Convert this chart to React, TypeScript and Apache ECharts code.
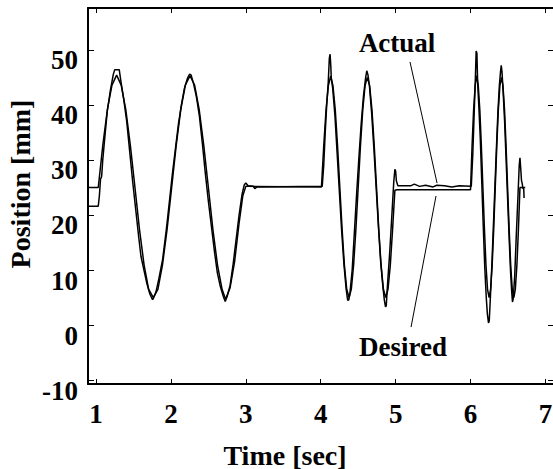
import React, { useEffect, useRef } from "react";
import * as echarts from "echarts";

const desiredTime = [
  0.893, 1.03, 1.091, 1.152, 1.213, 1.275, 1.336, 1.397, 1.458, 1.52, 1.581, 1.642, 1.703, 1.765, 1.826, 1.887, 1.948,
  2.01, 2.071, 2.132, 2.193, 2.255, 2.316, 2.377, 2.438, 2.5, 2.561, 2.622, 2.683, 2.73, 2.79, 2.85, 2.91, 2.96, 3.0, 3.05,
  4.01, 4.041, 4.071, 4.102, 4.133, 4.163, 4.194, 4.224, 4.255, 4.286, 4.316, 4.347, 4.378, 4.408, 4.439, 4.469, 4.5,
  4.531, 4.561, 4.592, 4.622, 4.653, 4.684, 4.714, 4.745, 4.775, 4.806, 4.837, 4.867, 4.898, 4.929, 4.959, 4.99, 5.02,
  6.0, 6.021, 6.041, 6.062, 6.083, 6.103, 6.124, 6.144, 6.165, 6.186, 6.206, 6.227, 6.248, 6.268, 6.289, 6.309, 6.33,
  6.351, 6.371, 6.392, 6.413, 6.433, 6.454, 6.474, 6.495, 6.516, 6.536, 6.557, 6.578, 6.598, 6.619, 6.639, 6.66, 6.73,
];
const desiredPos = [
  25, 25, 32.7, 39.2, 43.6, 45.4, 43.6, 39.2, 32.7, 25, 17.3, 10.9, 6.5, 5.0, 6.5, 10.9, 17.3,
  25, 32.7, 39.2, 43.6, 45.3, 43.6, 39.2, 32.7, 25, 17.3, 10.9, 6.5, 4.7, 6.8, 11.5, 18.5, 23.5, 25.2, 25.2,
  25.1, 32.7, 39.1, 43.5, 45.2, 43.5, 39.1, 32.7, 25, 17.3, 10.9, 6.5, 5.0, 6.5, 10.9, 17.3, 25,
  32.7, 39.1, 43.5, 45.0, 43.5, 39.1, 32.7, 25, 17.3, 10.9, 6.5, 5.0, 6.5, 10.9, 17.3, 24.5, 24.6,
  24.6, 32.7, 39.1, 43.5, 45.3, 43.5, 39.1, 32.7, 25, 17.3, 10.9, 6.5, 5.0, 6.5, 10.9, 17.3, 25,
  32.7, 39.1, 43.5, 45.0, 43.5, 39.1, 32.7, 25, 17.3, 10.9, 6.5, 5.0, 6.5, 10.9, 17.3, 25, 25,
];

const actualTime = [
  0.893, 1.03, 1.045, 1.06, 1.075, 1.09, 1.11, 1.15, 1.19, 1.23, 1.25, 1.31, 1.33, 1.37, 1.41, 1.45, 1.49, 1.53, 1.57,
  1.6, 1.64, 1.68, 1.72, 1.755, 1.77, 1.8, 1.84, 1.89, 1.94, 1.98, 2.02, 2.06, 2.1, 2.14, 2.18, 2.22, 2.25, 2.27, 2.3,
  2.34, 2.38, 2.42, 2.46, 2.5, 2.54, 2.58, 2.62, 2.66, 2.7, 2.725, 2.75, 2.79, 2.83, 2.87, 2.91, 2.95, 2.98, 3.0, 3.03,
  3.1, 3.12, 3.15, 4.02,
  4.04, 4.06, 4.08, 4.1, 4.115, 4.125, 4.135, 4.14, 4.16, 4.19, 4.22, 4.25, 4.28, 4.31, 4.34, 4.36, 4.375, 4.39, 4.42,
  4.45, 4.48, 4.51, 4.54, 4.57, 4.6, 4.615, 4.63, 4.65, 4.68, 4.71, 4.74, 4.77, 4.8, 4.83, 4.85, 4.865, 4.875, 4.89,
  4.92, 4.95, 4.975, 4.99, 5.0, 5.01, 5.03, 5.2, 5.25, 5.32, 5.4, 5.5, 5.55, 5.65, 5.75, 5.85, 6.0, 6.01,
  6.03, 6.05, 6.065, 6.075, 6.085, 6.095, 6.11, 6.13, 6.15, 6.17, 6.19, 6.21, 6.225, 6.24, 6.25, 6.265, 6.285, 6.305,
  6.325, 6.345, 6.365, 6.385, 6.4, 6.41, 6.42, 6.435, 6.455, 6.475, 6.495, 6.515, 6.535, 6.55, 6.56, 6.57, 6.59, 6.61,
  6.635, 6.65, 6.66, 6.67, 6.68, 6.69, 6.7, 6.71, 6.715,
];
const actualPos = [
  21.6, 21.6, 23.5, 26.5, 27, 30, 33, 38.8, 42.5, 45.5, 46.4, 46.4, 44.5, 41, 37, 31.5, 26, 21, 16,
  12.5, 10, 7.5, 5.6, 4.6, 5, 6, 8.5, 12, 17.5, 22.5, 27.5, 32, 36.5, 40, 43, 44.8, 45.6, 45.4, 44,
  41.5, 38, 33, 27.5, 22.5, 18, 13.5, 9.5, 7, 5.2, 4.3, 5.2, 7.2, 11, 15.5, 20, 23.8, 25.5, 25.8, 25.3,
  25.2, 24.8, 25.1, 25.2,
  29, 35, 40, 44, 48.5, 49.2, 47, 45, 43, 38, 31, 24, 17, 11, 6.5, 4.5, 4.6, 5.8, 10,
  17, 24, 30.5, 36.5, 41.5, 45, 46.2, 45.5, 43.5, 38.5, 32, 25, 18, 11.5, 7, 4.5, 3.3, 3.5, 7,
  13, 20, 26, 28.3, 28, 26.2, 25.3, 25.3, 25.6, 25.2, 25.4, 25.1, 25.4, 25.3, 25.1, 25.3, 25.2, 25.2,
  31, 39, 45, 49.8, 49.4, 44, 40, 34, 26, 18, 10.5, 5, 2, 0.4, 0.8, 5, 11, 18,
  25, 32, 38.5, 43.5, 46, 47.2, 46, 42.5, 37, 30, 23, 16, 9.5, 6, 4.2, 4.8, 9, 16,
  24, 29, 30.4, 28.5, 26.3, 25.7, 24.8, 24.8, 23.1,
];

const xTicks = [1, 2, 3, 4, 5, 6, 7];
const yTicks = [-10, 0, 10, 20, 30, 40, 50];

// annotation anchors in data coordinates
const actualLabel = [5.02, 51.3];
const actualLeader = [[5.192, 47.8], [5.553, 25.8]];
const desiredLabel = [5.1, -4.0];
const desiredLeader = [[5.539, 23.45], [5.206, -0.36]];

export default function App() {
  const ref = useRef<HTMLDivElement>(null);
  useEffect(() => {
    const chart = echarts.init(ref.current!, null, { renderer: "svg" });
    const fam = "Liberation Serif";
    const labelStyle = { fontFamily: fam, fontWeight: "bold" as const, fontSize: 27, color: "#000" };
    const zip = (t: number[], v: number[]) => t.map((x, i) => [x, v[i]]);
    const axisLine = { show: true, onZero: false, lineStyle: { color: "#000", width: 2 } };
    const option: any = {
      animation: false,
      backgroundColor: "#fff",
      grid: { left: 88, top: 8, right: 0, bottom: 85, containLabel: false, outerBoundsMode: "none" },
      xAxis: [
        {
          type: "value", min: 0.893, max: 7.101, position: "bottom",
          axisLine, splitLine: { show: false },
          axisTick: { show: true, inside: true, length: 5, customValues: xTicks, lineStyle: { color: "#000", width: 1 } },
          axisLabel: { show: true, customValues: xTicks, margin: 16, ...labelStyle },
        },
        {
          type: "value", min: 0.893, max: 7.101, position: "top",
          axisLine, splitLine: { show: false },
          axisTick: { show: true, inside: true, length: 5, customValues: xTicks, lineStyle: { color: "#000", width: 1 } },
          axisLabel: { show: false },
        },
      ],
      yAxis: [
        {
          type: "value", min: -10.7, max: 57.6, position: "left",
          axisLine, splitLine: { show: false },
          axisTick: { show: true, inside: true, length: 6, customValues: yTicks, lineStyle: { color: "#000", width: 1 } },
          axisLabel: { show: true, customValues: yTicks, margin: 10, verticalAlign: "top", lineHeight: 21, ...labelStyle },
        },
        {
          type: "value", min: -10.7, max: 57.6, position: "right",
          axisLine: { show: false, onZero: false }, splitLine: { show: false },
          axisTick: { show: true, inside: true, length: 5, customValues: yTicks, lineStyle: { color: "#000", width: 1 } },
          axisLabel: { show: false },
        },
      ],
      series: [
        {
          name: "Desired", type: "line", data: zip(desiredTime, desiredPos), showSymbol: false, symbol: "none",
          lineStyle: { color: "#000", width: 1.5 }, xAxisIndex: 0, yAxisIndex: 0, silent: true,
          markLine: {
            silent: true, symbol: ["none", "none"], label: { show: false },
            lineStyle: { color: "#000", width: 1, type: "solid" },
            data: [
              [{ coord: actualLeader[0] }, { coord: actualLeader[1] }],
              [{ coord: desiredLeader[0] }, { coord: desiredLeader[1] }],
            ],
          },
          markPoint: {
            silent: true, symbol: "rect", symbolSize: 1, itemStyle: { color: "rgba(0,0,0,0)" },
            label: { show: true, position: "inside", ...labelStyle },
            data: [
              { coord: actualLabel, label: { formatter: "Actual" } },
              { coord: desiredLabel, label: { formatter: "Desired" } },
            ],
          },
        },
        {
          name: "Actual", type: "line", data: zip(actualTime, actualPos), showSymbol: false, symbol: "none",
          lineStyle: { color: "#000", width: 1.5 }, xAxisIndex: 0, yAxisIndex: 0, silent: true,
        },
      ],
      graphic: [
        {
          type: "text", x: 285, y: 455,
          style: { text: "Time [sec]", font: `bold 28px ${fam}`, fill: "#000", textAlign: "center", textVerticalAlign: "middle" },
        },
        {
          type: "text", x: 20, y: 184, rotation: Math.PI / 2,
          style: { text: "Position [mm]", font: `bold 28px ${fam}`, fill: "#000", textAlign: "center", textVerticalAlign: "middle" },
        },
      ],
    };
    chart.setOption(option);
    return () => chart.dispose();
  }, []);
  return <div ref={ref} style={{ position: "absolute", left: 0, top: 0, width: 553, height: 469 }} />;
}
